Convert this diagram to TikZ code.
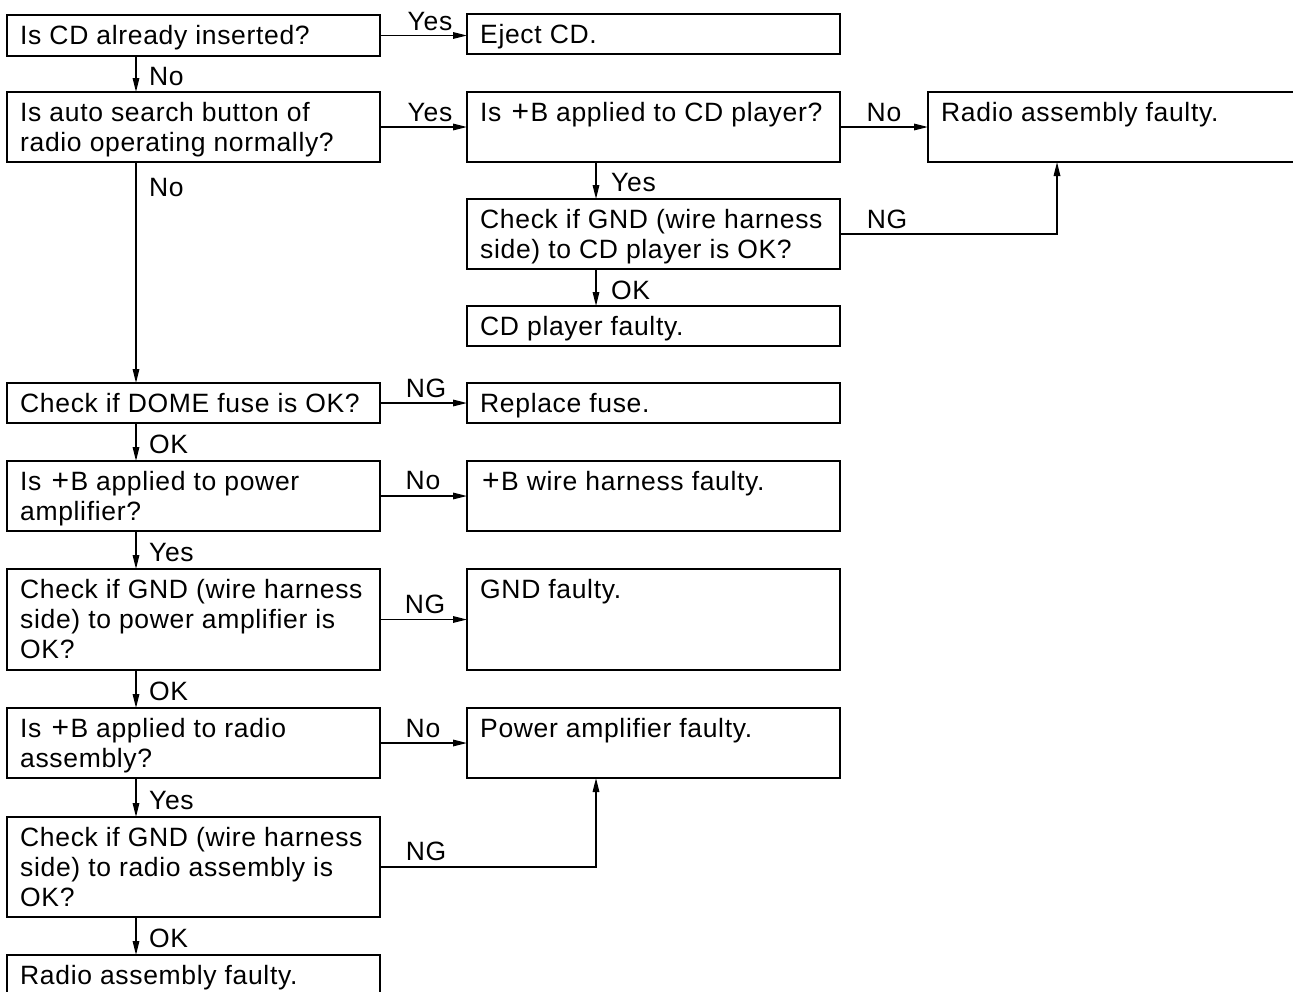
\documentclass[tikz,border=0pt]{standalone}
\usepackage{fontspec}
\setmainfont{Liberation Sans}[LetterSpace=2.5]
\usetikzlibrary{arrows.meta}
\newcommand\strutA{\rule{0pt}{24pt}}
\newcommand\plusB{\kern2pt{\fontsize{30}{30}\selectfont+}\kern1.5pt B}
\begin{document}
\begin{tikzpicture}[x=1pt,y=-1pt,
  box/.style={draw, line width=2pt, inner sep=0pt, outer sep=0pt, rectangle, anchor=north west},
  txt/.style={anchor=north west, inner sep=0pt, align=left, font=\fontsize{26.5}{30}\selectfont},
  lbl/.style={inner sep=0pt, font=\fontsize{26.5}{30}\selectfont},
  conn/.style={line width=1.6pt, -{Triangle[length=14pt,width=6.5pt]}}]
\useasboundingbox (0,0) rectangle (1293,991);
\clip (0,0) rectangle (1293,991);
% left column
\node[box, minimum width=373pt, minimum height=41pt]  (a1) at (7,15) {};
\node[box, minimum width=373pt, minimum height=70pt]  (a2) at (7,92) {};
\node[box, minimum width=373pt, minimum height=40pt]  (a3) at (7,383) {};
\node[box, minimum width=373pt, minimum height=70pt]  (a4) at (7,461) {};
\node[box, minimum width=373pt, minimum height=101pt] (a5) at (7,569) {};
\node[box, minimum width=373pt, minimum height=70pt]  (a6) at (7,708) {};
\node[box, minimum width=373pt, minimum height=100pt] (a7) at (7,817) {};
\node[box, minimum width=373pt, minimum height=60pt]  (a8) at (7,955) {};
% middle column
\node[box, minimum width=373pt, minimum height=40pt]  (b1) at (467,14) {};
\node[box, minimum width=373pt, minimum height=70pt]  (b2) at (467,92) {};
\node[box, minimum width=373pt, minimum height=70pt]  (b3) at (467,199) {};
\node[box, minimum width=373pt, minimum height=40pt]  (b4) at (467,306) {};
\node[box, minimum width=373pt, minimum height=40pt]  (b5) at (467,383) {};
\node[box, minimum width=373pt, minimum height=70pt]  (b6) at (467,461) {};
\node[box, minimum width=373pt, minimum height=101pt] (b7) at (467,569) {};
\node[box, minimum width=373pt, minimum height=70pt]  (b8) at (467,708) {};
% right column
\node[box, minimum width=390pt, minimum height=70pt]  (c1) at (928,92) {};
% texts
\node[txt] (a1t) at ([xshift=13pt,yshift=-5.5pt]a1.north west) {\strutA Is CD already inserted?};
\node[txt] (a2t) at ([xshift=13pt,yshift=-5.5pt]a2.north west) {\strutA Is auto search button of\\radio operating normally?};
\node[txt] (a3t) at ([xshift=13pt,yshift=-5.5pt]a3.north west) {\strutA Check if DOME fuse is OK?};
\node[txt] (a4t) at ([xshift=13pt,yshift=-5.5pt]a4.north west) {\strutA Is \plusB\ applied to power\\amplifier?};
\node[txt] (a5t) at ([xshift=13pt,yshift=-5.5pt]a5.north west) {\strutA Check if GND (wire harness\\side) to power amplifier is\\OK?};
\node[txt] (a6t) at ([xshift=13pt,yshift=-5.5pt]a6.north west) {\strutA Is \plusB\ applied to radio\\assembly?};
\node[txt] (a7t) at ([xshift=13pt,yshift=-5.5pt]a7.north west) {\strutA Check if GND (wire harness\\side) to radio assembly is\\OK?};
\node[txt] (a8t) at ([xshift=13pt,yshift=-5.5pt]a8.north west) {\strutA Radio assembly faulty.};
\node[txt] (b1t) at ([xshift=13pt,yshift=-5.5pt]b1.north west) {\strutA Eject CD.};
\node[txt] (b2t) at ([xshift=13pt,yshift=-5.5pt]b2.north west) {\strutA Is \plusB\ applied to CD player?};
\node[txt] (b3t) at ([xshift=13pt,yshift=-5.5pt]b3.north west) {\strutA Check if GND (wire harness\\side) to CD player is OK?};
\node[txt] (b4t) at ([xshift=13pt,yshift=-5.5pt]b4.north west) {\strutA CD player faulty.};
\node[txt] (b5t) at ([xshift=13pt,yshift=-5.5pt]b5.north west) {\strutA Replace fuse.};
\node[txt] (b6t) at ([xshift=13pt,yshift=-5.5pt]b6.north west) {\strutA \plusB\ wire harness faulty.};
\node[txt] (b7t) at ([xshift=13pt,yshift=-5.5pt]b7.north west) {\strutA GND faulty.};
\node[txt] (b8t) at ([xshift=13pt,yshift=-5.5pt]b8.north west) {\strutA Power amplifier faulty.};
\node[txt] (c1t) at ([xshift=13pt,yshift=-5.5pt]c1.north west) {\strutA Radio assembly faulty.};
% connectors
\draw[conn] (a1.east) -- (a1.east -| b1.west);
\draw[conn] (a2.east) -- (b2.west);
\draw[conn] (b2.east) -- (b2.east -| c1.west);
\draw[conn] ([xshift=129pt]b2.south west) -- ([xshift=129pt]b3.north west);
\draw[conn] (b3.east) -| ([xshift=129pt]c1.south west);
\draw[conn] ([xshift=129pt]b3.south west) -- ([xshift=129pt]b4.north west);
\draw[conn] ([xshift=129pt]a1.south west) -- ([xshift=129pt]a2.north west);
\draw[conn] ([xshift=129pt]a2.south west) -- ([xshift=129pt]a3.north west);
\draw[conn] (a3.east) -- (b5.west);
\draw[conn] ([xshift=129pt]a3.south west) -- ([xshift=129pt]a4.north west);
\draw[conn] (a4.east) -- (b6.west);
\draw[conn] ([xshift=129pt]a4.south west) -- ([xshift=129pt]a5.north west);
\draw[conn] (a5.east) -- (a5.east -| b7.west);
\draw[conn] ([xshift=129pt]a5.south west) -- ([xshift=129pt]a6.north west);
\draw[conn] (a6.east) -- (b8.west);
\draw[conn] ([xshift=129pt]a6.south west) -- ([xshift=129pt]a7.north west);
\draw[conn] (a7.east) -| ([xshift=129pt]b8.south west);
\draw[conn] ([xshift=129pt]a7.south west) -- ([xshift=129pt]a8.north west);
% labels
\node[lbl, anchor=base] (l1) at (430,30) {Yes};
\node[lbl, anchor=base] (l2) at (430,121) {Yes};
\node[lbl, anchor=base] (l3) at (884,121) {No};
\node[lbl, anchor=base] (l4) at (887,228) {NG};
\node[lbl, anchor=base west] (l5) at (611,191) {Yes};
\node[lbl, anchor=base west] (l6) at (611,299) {OK};
\node[lbl, anchor=base west] (l7) at (149,85) {No};
\node[lbl, anchor=base west] (l8) at (149,196) {No};
\node[lbl, anchor=base] (l9) at (426,397) {NG};
\node[lbl, anchor=base west] (l10) at (149,453) {OK};
\node[lbl, anchor=base] (l11) at (423,489) {No};
\node[lbl, anchor=base west] (l12) at (149,561) {Yes};
\node[lbl, anchor=base] (l13) at (425,613) {NG};
\node[lbl, anchor=base west] (l14) at (149,700) {OK};
\node[lbl, anchor=base] (l15) at (423,737) {No};
\node[lbl, anchor=base west] (l16) at (149,809) {Yes};
\node[lbl, anchor=base] (l17) at (426,860) {NG};
\node[lbl, anchor=base west] (l18) at (149,947) {OK};
\end{tikzpicture}
\end{document}
